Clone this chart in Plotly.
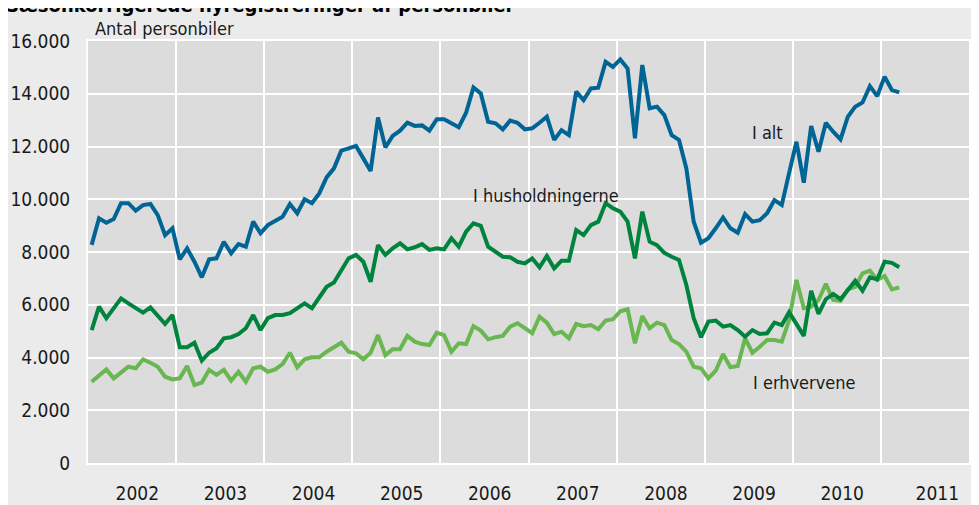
import plotly.graph_objects as go

# ---- data (monthly, seasonally adjusted, Jan 2002 - Mar 2011) ----
start_year = 2002
i_alt = [
    8270, 9280, 9110, 9250, 9850, 9850, 9570, 9780, 9820, 9400, 8640, 8900,
    7720, 8140, 7630, 7040, 7720, 7760, 8390, 7950, 8300, 8200, 9150, 8710,
    9020, 9190, 9340, 9820, 9470, 10000, 9850, 10220, 10830, 11170, 11840, 11930,
    12020, 11550, 11070, 13100, 11970, 12400, 12600, 12900, 12780, 12800, 12600, 13030,
    13030, 12880, 12730, 13280, 14240, 14010, 12940, 12880, 12650, 12980, 12900, 12650,
    12690, 12900, 13130, 12250, 12620, 12430, 14080, 13760, 14200, 14230, 15210, 15020,
    15300, 14960, 12310, 15090, 13450, 13510, 13190, 12430, 12250, 11170, 9150, 8350,
    8520, 8900, 9310, 8900, 8730, 9440, 9150, 9210, 9470, 9970, 9780, 11000,
    12180, 10630, 12780, 11800, 12900, 12560, 12270, 13130, 13510, 13670, 14290, 13910,
    14650, 14140, 14050,
]
i_husholdningerne = [
    5040, 5930, 5490, 5870, 6240, 6050, 5870, 5700, 5900, 5610, 5270, 5610,
    4390, 4390, 4560, 3880, 4180, 4350, 4730, 4770, 4890, 5110, 5610, 5040,
    5490, 5610, 5610, 5680, 5870, 6050, 5870, 6280, 6680, 6840, 7320, 7760,
    7890, 7630, 6870, 8260, 7890, 8140, 8330, 8100, 8180, 8300, 8080, 8140,
    8100, 8520, 8200, 8770, 9090, 8990, 8200, 8010, 7820, 7800, 7630, 7570,
    7760, 7420, 7850, 7380, 7670, 7670, 8830, 8640, 9020, 9150, 9850, 9660,
    9530, 9150, 7760, 9530, 8390, 8260, 7970, 7820, 7700, 6750, 5490, 4770,
    5360, 5400, 5170, 5230, 5040, 4790, 5040, 4890, 4920, 5320, 5230, 5720,
    5300, 4820, 6530, 5650, 6210, 6410, 6210, 6580, 6910, 6530, 7040, 6960,
    7630, 7590, 7420,
]
i_erhvervene = [
    3080, 3300, 3550, 3210, 3420, 3650, 3590, 3930, 3800, 3650, 3270, 3170,
    3210, 3680, 2960, 3050, 3530, 3340, 3530, 3120, 3460, 3080, 3590, 3650,
    3460, 3550, 3750, 4180, 3630, 3930, 4010, 4010, 4220, 4410, 4560, 4220,
    4160, 3930, 4180, 4850, 4090, 4310, 4310, 4820, 4600, 4510, 4470, 4940,
    4850, 4220, 4540, 4510, 5190, 5020, 4690, 4770, 4820, 5170, 5300, 5110,
    4920, 5550, 5320, 4890, 4980, 4730, 5270, 5190, 5230, 5070, 5400, 5450,
    5750, 5830, 4540, 5570, 5110, 5320, 5230, 4660, 4510, 4220, 3650, 3590,
    3210, 3500, 4130, 3630, 3680, 4730, 4180, 4410, 4660, 4660, 4600, 5420,
    6940, 5870, 5930, 6180, 6790, 6180, 6150, 6580, 6680, 7190, 7290, 6940,
    7090, 6580, 6660,
]
years = [2002, 2003, 2004, 2005, 2006, 2007, 2008, 2009, 2010, 2011]
y_tick_values = [0, 2000, 4000, 6000, 8000, 10000, 12000, 14000, 16000]
y_tick_labels = ["0", "2.000", "4.000", "6.000", "8.000", "10.000", "12.000", "14.000", "16.000"]

x = [start_year + (k + 0.5) / 12 for k in range(len(i_alt))]

FONT = "Liberation Sans Narrow, Arial Narrow, DejaVu Sans Condensed, Liberation Sans, Arial, sans-serif"
TXT = "#1a1a1a"

fig = go.Figure()
fig.add_trace(go.Scatter(x=x, y=i_erhvervene, mode="lines", name="I erhvervene",
                         line=dict(color="#6ab651", width=4)))
fig.add_trace(go.Scatter(x=x, y=i_husholdningerne, mode="lines", name="I husholdningerne",
                         line=dict(color="#00843d", width=4)))
fig.add_trace(go.Scatter(x=x, y=i_alt, mode="lines", name="I alt",
                         line=dict(color="#006494", width=4)))

# page offset of the figure (body margin) and plot-area box in page pixels
OFF = 8
L, R, T, B = 88, 969, 41, 463
FIG_W, FIG_H = 964, 497
W, H = R - L, B - T
def px(v):
    return (v - L) / W
def py(v):
    return (B - v) / H

x_tickvals = [yr + 0.56 for yr in years[:-1]] + [years[-1] + 0.64]

fig.update_xaxes(range=[2002, 2012], tickvals=x_tickvals, ticktext=[str(yr) for yr in years],
                 automargin=False,
                 showgrid=False, zeroline=False, ticks="", ticklabelstandoff=12,
                 showline=True, linecolor="white", linewidth=2, mirror=True,
                 minor=dict(tickvals=list(range(2002, 2013)), showgrid=True,
                            gridcolor="white", gridwidth=2, ticks=""),
                 tickfont=dict(family=FONT, size=19, color=TXT))
fig.update_yaxes(range=[0, 16000], tickvals=y_tick_values, ticktext=y_tick_labels,
                 automargin=False,
                 showgrid=True, gridcolor="white", gridwidth=2, zeroline=False, ticks="",
                 ticklabelstandoff=12,
                 showline=True, linecolor="white", linewidth=2, mirror=True,
                 tickfont=dict(family=FONT, size=19, color=TXT))

fig.add_annotation(xref="paper", yref="paper", x=px(93), y=py(28), xanchor="left", yanchor="middle",
                   text="Antal personbiler", showarrow=False,
                   font=dict(family=FONT, size=18, color=TXT))
fig.add_annotation(xref="paper", yref="paper", x=px(4), y=py(19), xanchor="left", yanchor="bottom",
                   text="<b>Sæsonkorrigerede nyregistreringer af personbiler</b>", showarrow=False,
                   font=dict(family=FONT, size=20, color="#000000"))

def dx(p):
    return 2002 + (p - 88) / 88.1
def dy(p):
    return (463 - p) * 2000 / 52.75

fig.add_annotation(x=dx(750), y=dy(132), xanchor="left", yanchor="middle", text="I alt",
                   showarrow=False, font=dict(family=FONT, size=18, color=TXT))
fig.add_annotation(x=dx(471), y=dy(195), xanchor="left", yanchor="middle", text="I husholdningerne",
                   showarrow=False, font=dict(family=FONT, size=18, color=TXT))
fig.add_annotation(x=dx(751), y=dy(382), xanchor="left", yanchor="middle", text="I erhvervene",
                   showarrow=False, font=dict(family=FONT, size=18, color=TXT))

fig.update_layout(template="none", width=FIG_W, height=FIG_H, autosize=False,
                  margin=dict(l=L - OFF, r=FIG_W - (R - OFF), t=T - OFF, b=FIG_H - (B - OFF)),
                  paper_bgcolor="#ebebeb", plot_bgcolor="#dcdcdc",
                  showlegend=False, font=dict(family=FONT, color=TXT))

fig.write_html("out.html")
